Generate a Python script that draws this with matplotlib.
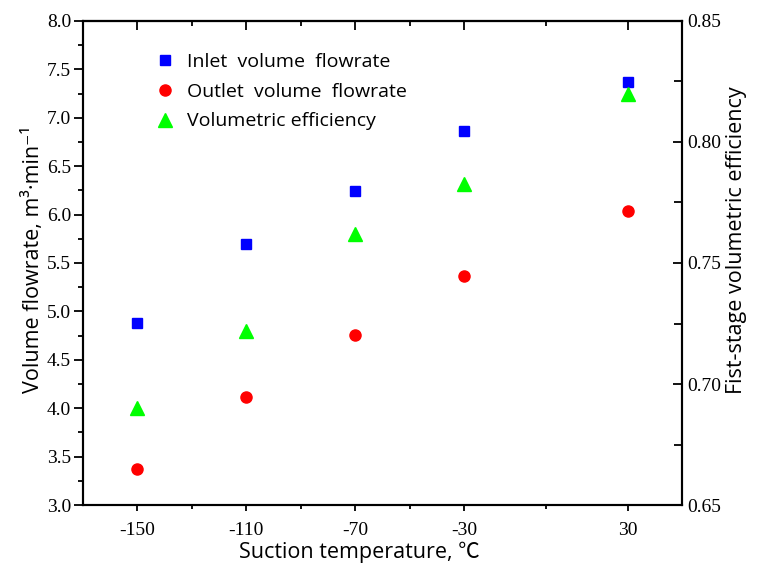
import matplotlib
matplotlib.use("Agg")
import matplotlib.pyplot as plt
from matplotlib.lines import Line2D

# ---- data ----
temperature = [-150, -110, -70, -30, 30]
inlet_flow = [4.88, 5.70, 6.24, 6.86, 7.37]
outlet_flow = [3.37, 4.12, 4.76, 5.37, 6.04]
vol_efficiency = [0.690, 0.722, 0.762, 0.7825, 0.820]

x_major = [-150, -110, -70, -30, 30]
x_minor = [-130, -90, -50, 0]
y_left_ticks = [3.0, 3.5, 4.0, 4.5, 5.0, 5.5, 6.0, 6.5, 7.0, 7.5, 8.0]
y_right_ticks = [0.65, 0.70, 0.75, 0.80, 0.85]

label_font = ["Open Sans", "Noto Sans CJK SC", "DejaVu Sans"]
tick_font = "Liberation Serif"

fig = plt.figure(figsize=(7.59, 5.70), dpi=100)
ax = fig.add_axes([0.1094, 0.114, 0.7892, 0.8492])
ax2 = ax.twinx()

ax.plot(temperature, inlet_flow, linestyle="none", marker="s", ms=7.5,
        color="#0000FF", mec="#0000FF")
ax.plot(temperature, outlet_flow, linestyle="none", marker="o", ms=8,
        color="#FF0000", mec="#FF0000")
ax2.plot(temperature, vol_efficiency, linestyle="none", marker="^", ms=10,
         color="#00FF00", mec="#00FF00")

ax.set_xlim(-170, 50)
ax.set_ylim(3.0, 8.0)
ax2.set_ylim(0.65, 0.85)

ax.set_xticks(x_major)
ax.set_xticks(x_minor, minor=True)
ax.set_xticklabels([str(v) for v in x_major])
ax.set_yticks(y_left_ticks)
ax.set_yticklabels([f"{v:.1f}" for v in y_left_ticks])
ax.set_yticks([v + 0.25 for v in y_left_ticks[:-1]], minor=True)
ax2.set_yticks(y_right_ticks)
ax2.set_yticklabels([f"{v:.2f}" for v in y_right_ticks])
ax2.set_yticks([v + 0.025 for v in y_right_ticks[:-1]], minor=True)

for a in (ax, ax2):
    for s in a.spines.values():
        s.set_linewidth(1.5)

ax.tick_params(axis="y", which="major", direction="out", length=6.5, width=1.3,
               pad=2, labelsize=14)
ax.tick_params(axis="y", which="minor", direction="out", length=3.5, width=1.3)
ax.tick_params(axis="x", which="major", direction="out", length=4, width=1.3,
               pad=8, labelsize=14)
ax.tick_params(axis="x", which="minor", direction="out", length=3, width=1.3)
ax2.tick_params(axis="y", which="major", direction="in", length=6.5, width=1.3,
                pad=4, labelsize=14)
ax2.tick_params(axis="y", which="minor", direction="in", length=6, width=1.3)

top = ax.secondary_xaxis("top")
top.set_xticks(x_major)
top.set_xticks(x_minor, minor=True)
top.tick_params(axis="x", which="major", direction="in", length=6.5, width=1.3,
                labeltop=False)
top.tick_params(axis="x", which="minor", direction="in", length=3.5, width=1.3)
top.spines["top"].set_linewidth(1.5)

for lab in ax.get_xticklabels() + ax.get_yticklabels() + ax2.get_yticklabels():
    lab.set_fontfamily(tick_font)

ax.set_xlabel("Suction temperature, ℃", family=label_font, fontsize=15.5, labelpad=2)
ax.set_ylabel("Volume flowrate, m³·min⁻¹", family=label_font, fontsize=15.5,
              labelpad=2)
ax2.set_ylabel("Fist-stage volumetric efficiency", family=label_font, fontsize=15.5,
               labelpad=3)
ax.xaxis.label.set_x(0.462)
ax.yaxis.label.set_y(0.508)
ax2.yaxis.label.set_y(0.548)

handles = [
    Line2D([], [], linestyle="none", marker="s", ms=7.5, color="#0000FF"),
    Line2D([], [], linestyle="none", marker="o", ms=8, color="#FF0000"),
    Line2D([], [], linestyle="none", marker="^", ms=10, color="#00FF00"),
]
labels = ["Inlet  volume  flowrate", "Outlet  volume  flowrate", "Volumetric efficiency"]
fig.legend(handles, labels, loc="upper left", bbox_to_anchor=(0.206, 0.907),
           frameon=False, prop={"family": label_font, "size": 14},
           handlelength=0.9, handletextpad=0.7, labelspacing=0.6,
           borderaxespad=0, borderpad=0)

fig.savefig("out.png", dpi=100)
